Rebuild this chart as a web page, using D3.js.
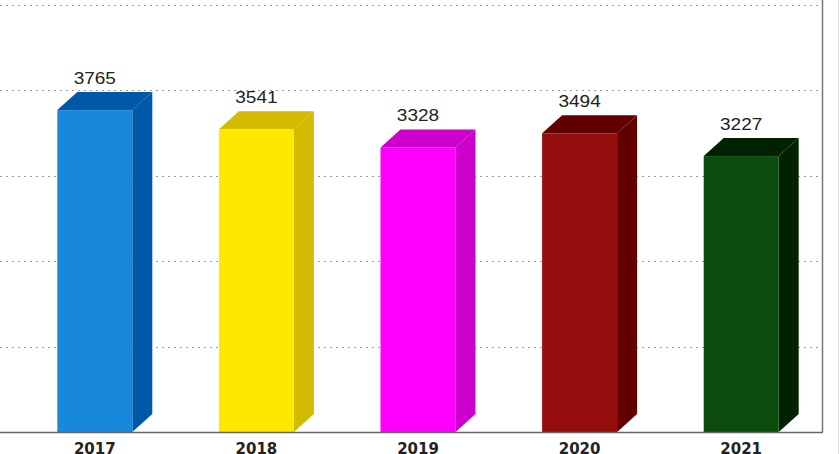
<!DOCTYPE html>
<meta charset="utf-8">
<style>
body { margin: 0; background: #fff; }
.grid line { stroke: #999; stroke-dasharray: 2,4; stroke-width: 1.2px; }
.vals text { font-family: "Liberation Sans", Arial, sans-serif; font-size: 17px; fill: #222; }
.years text { font-family: "DejaVu Sans", Verdana, sans-serif; font-size: 15px; font-weight: bold; fill: #222; }
</style>
<svg width="840" height="454"></svg>
<script src="https://d3js.org/d3.v7.min.js"></script>
<script>

var years = ["2017", "2018", "2019", "2020", "2021"];
var values = [3765, 3541, 3328, 3494, 3227];
var frontColors = ["#1788dc", "#ffe800", "#ff00ff", "#950d0d", "#0b4b0b"];
var sideColors = ["#0058a8", "#d2bb00", "#cc00cc", "#620000", "#002200"];
var gridTicks = [1000, 2000, 3000, 4000, 5000];

var svg = d3.select("svg"),
    plotLeft = 14, plotRight = 822,
    baseY = 432, topY = 4.5,
    depthX = 20, depthY = 18;

var x = d3.scaleBand()
    .domain(years)
    .range([plotLeft, plotRight])
    .paddingInner(0.536)
    .paddingOuter(0.268);

var y = d3.scaleLinear()
    .domain([0, 5000])
    .range([baseY, topY]);

// gridlines
svg.append("g")
    .attr("class", "grid")
  .selectAll("line")
  .data(gridTicks)
  .enter().append("line")
    .attr("x1", 0)
    .attr("x2", plotRight)
    .attr("y1", function(d) { return Math.round(y(d)) + 0.5; })
    .attr("y2", function(d) { return Math.round(y(d)) + 0.5; });

// right border + faint frame edge
svg.append("line")
    .attr("x1", plotRight + 0.5).attr("x2", plotRight + 0.5)
    .attr("y1", 0).attr("y2", baseY)
    .attr("stroke", "#777").attr("stroke-width", 1.5);
svg.append("line")
    .attr("x1", 838.5).attr("x2", 838.5)
    .attr("y1", 0).attr("y2", 454)
    .attr("stroke", "#ddd").attr("stroke-width", 1);

var bw = x.bandwidth();

var bars = svg.append("g")
  .selectAll("g")
  .data(years)
  .enter().append("g");

// side face
bars.append("path")
    .attr("fill", function(d, i) { return sideColors[i]; })
    .attr("d", function(d, i) {
      var x1 = x(d) + bw, yt = y(values[i]);
      return "M" + x1 + "," + yt + "L" + (x1 + depthX) + "," + (yt - depthY) +
             "L" + (x1 + depthX) + "," + (baseY - depthY) + "L" + x1 + "," + baseY + "Z";
    });

// top face
bars.append("path")
    .attr("fill", function(d, i) { return sideColors[i]; })
    .attr("d", function(d, i) {
      var x0 = x(d), yt = y(values[i]);
      return "M" + x0 + "," + yt + "L" + (x0 + depthX) + "," + (yt - depthY) +
             "L" + (x0 + bw + depthX) + "," + (yt - depthY) + "L" + (x0 + bw) + "," + yt + "Z";
    });

// front face
bars.append("rect")
    .attr("x", function(d) { return x(d); })
    .attr("y", function(d, i) { return y(values[i]); })
    .attr("width", bw)
    .attr("height", function(d, i) { return baseY - y(values[i]); })
    .attr("fill", function(d, i) { return frontColors[i]; });

// baseline
svg.append("line")
    .attr("x1", 0).attr("x2", plotRight + 1)
    .attr("y1", baseY + 0.5).attr("y2", baseY + 0.5)
    .attr("stroke", "#666").attr("stroke-width", 1.5);

// value labels (slightly stretched like the original)
svg.append("g")
    .attr("class", "vals")
  .selectAll("text")
  .data(years)
  .enter().append("text")
    .attr("text-anchor", "middle")
    .attr("transform", function(d, i) {
      return "translate(" + (x(d) + bw / 2) + "," + (y(values[i]) - depthY - 8.5) + ") scale(1.12,1)";
    })
    .text(function(d, i) { return values[i]; });

// category labels
svg.append("g")
    .attr("class", "years")
  .selectAll("text")
  .data(years)
  .enter().append("text")
    .attr("text-anchor", "middle")
    .attr("x", function(d) { return x(d) + bw / 2; })
    .attr("y", baseY + 21.5)
    .text(function(d) { return d; });

</script>
